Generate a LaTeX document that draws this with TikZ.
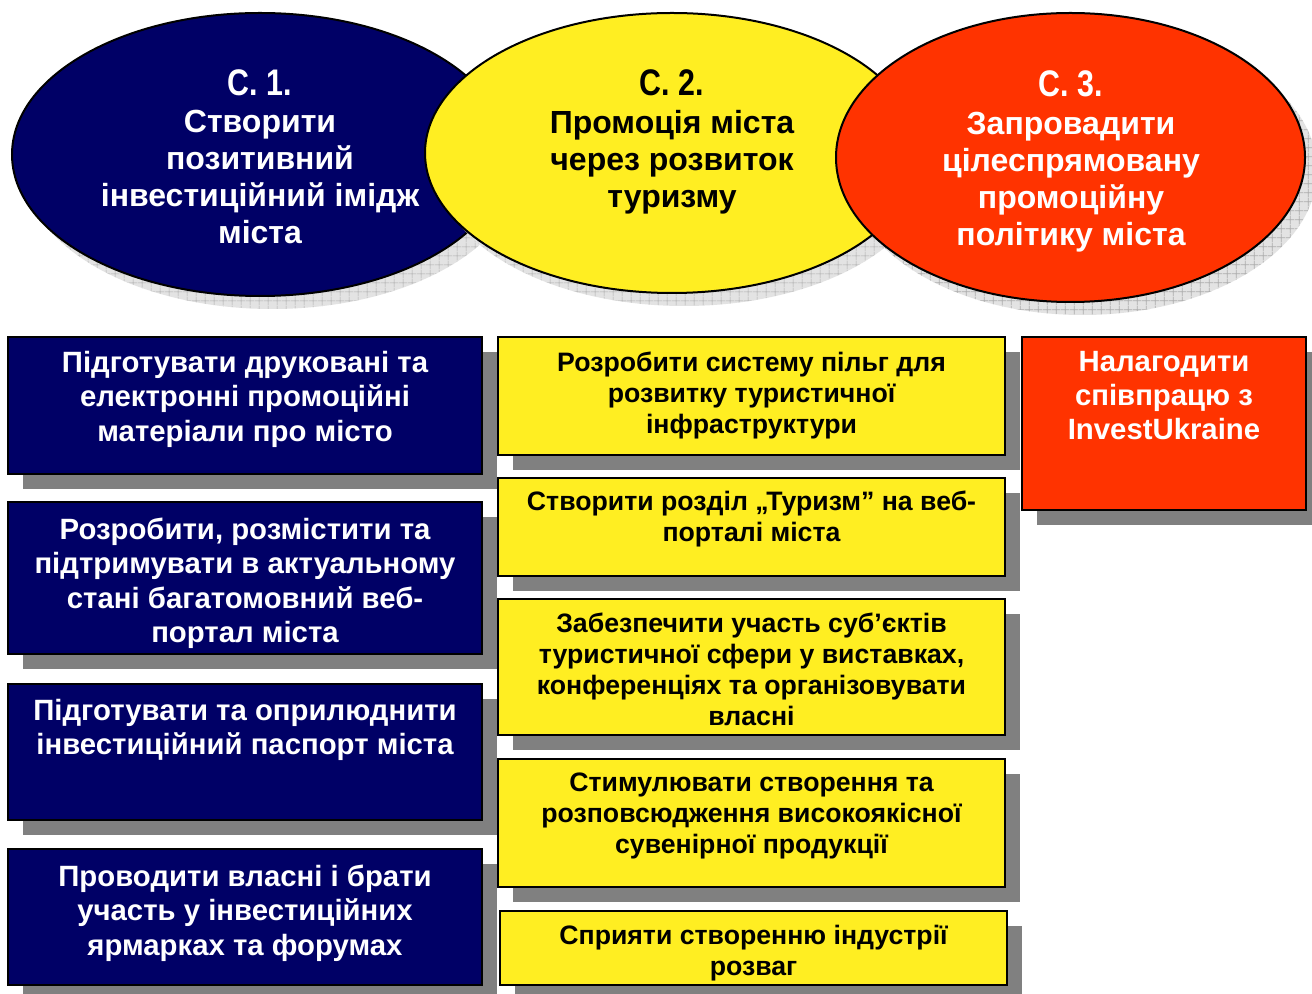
\documentclass[tikz,border=0pt]{standalone}
\usepackage{fontspec}
\setmainfont{Liberation Sans}
\newfontfamily\narrowfont[FakeStretch=0.82]{Liberation Sans}
\usetikzlibrary{shapes.geometric,patterns.meta}
\definecolor{navyc}{RGB}{0,0,102}
\definecolor{yell}{RGB}{255,238,34}
\definecolor{redc}{RGB}{255,51,0}
\definecolor{shad}{RGB}{128,128,128}
\begin{document}
\begin{tikzpicture}[x=0.75pt,y=-0.75pt,
  oval/.style={ellipse, draw=black, line width=1.5pt, inner sep=0pt},
  ovalshadow/.style={ellipse, draw=none, inner sep=0pt, preaction={fill=gray!22},
     pattern={Hatch[angle=0,distance=6.5pt,line width=0.5pt]}, pattern color=gray!65},
  box/.style={rectangle, draw=black, line width=1.5pt, inner sep=0pt},
  boxshadow/.style={rectangle, fill=shad, draw=none, inner sep=0pt},
  titletext/.style={font=\narrowfont\bfseries\fontsize{27.75pt}{30pt}\selectfont, align=center, inner sep=0pt, anchor=north},
  ovaltext/.style={font=\bfseries\fontsize{24pt}{27.75pt}\selectfont, align=center, inner sep=0pt, anchor=north},
  navytext/.style={font=\bfseries\fontsize{22pt}{25.85pt}\selectfont, text=white, align=center, inner sep=0pt, anchor=north},
  yelltext/.style={font=\bfseries\fontsize{20pt}{23.25pt}\selectfont, text=black, align=center, inner sep=0pt, anchor=north}
]
\useasboundingbox (0,0) rectangle (1312,994);
\fill[white] (0,0) rectangle (1312,994);

% ---- ellipses ----
\node[ovalshadow, minimum width=496*0.75pt, minimum height=283*0.75pt] (s1) at (272,167.5) {};
\node[oval, fill=navyc, minimum width=496*0.75pt, minimum height=283*0.75pt] (e1) at (260,154.5) {};
\node[ovalshadow, minimum width=494*0.75pt, minimum height=280*0.75pt] (s2) at (684,166) {};
\node[oval, fill=yell, minimum width=494*0.75pt, minimum height=280*0.75pt] (e2) at (672,153) {};
\node[ovalshadow, minimum width=469*0.75pt, minimum height=289*0.75pt] (s3) at (1082.5,170.5) {};
\node[oval, fill=redc, minimum width=469*0.75pt, minimum height=289*0.75pt] (e3) at (1070.5,157.5) {};

\node[titletext, text=white] (e1t) at (260,69.8) {С. 1.};
\node[ovaltext, text=white] (e1b) at (260,110.3) {Створити\\позитивний\\інвестиційний імідж\\міста};
\node[titletext, text=black] (e2t) at (672,69.8) {С. 2.};
\node[ovaltext, text=black] (e2b) at (672,110.3) {Промоція міста\\через розвиток\\туризму};
\node[titletext, text=white] (e3t) at (1071,70.3) {С. 3.};
\node[ovaltext, text=white] (e3b) at (1071,112.3) {Запровадити\\цілеспрямовану\\промоційну\\політику міста};

% ---- navy boxes ----
\node[boxshadow, minimum width=474*0.75pt, minimum height=137*0.75pt] (b1s) at (260,420.5) {};
\node[box, fill=navyc, minimum width=474*0.75pt, minimum height=137*0.75pt] (b1) at (245,405.5) {};
\node[boxshadow, minimum width=474*0.75pt, minimum height=152*0.75pt] (b2s) at (260,593) {};
\node[box, fill=navyc, minimum width=474*0.75pt, minimum height=152*0.75pt] (b2) at (245,578) {};
\node[boxshadow, minimum width=474*0.75pt, minimum height=136*0.75pt] (b3s) at (260,767) {};
\node[box, fill=navyc, minimum width=474*0.75pt, minimum height=136*0.75pt] (b3) at (245,752) {};
\node[boxshadow, minimum width=474*0.75pt, minimum height=136*0.75pt] (b4s) at (260,932) {};
\node[box, fill=navyc, minimum width=474*0.75pt, minimum height=136*0.75pt] (b4) at (245,917) {};

\node[navytext] (b1t) at (245,350.6) {Підготувати друковані та\\електронні промоційні\\матеріали про місто};
\node[navytext] (b2t) at (245,517.6) {Розробити, розмістити та\\підтримувати в актуальному\\стані багатомовний веб-\\портал міста};
\node[navytext] (b3t) at (245,698.6) {Підготувати та оприлюднити\\інвестиційний паспорт міста};
\node[navytext] (b4t) at (245,864.6) {Проводити власні і брати\\участь у інвестиційних\\ярмарках та форумах};

% ---- yellow boxes ----
\node[boxshadow, minimum width=507*0.75pt, minimum height=118*0.75pt] (y1s) at (766.5,411) {};
\node[box, fill=yell, minimum width=507*0.75pt, minimum height=118*0.75pt] (y1) at (751.5,396) {};
\node[boxshadow, minimum width=507*0.75pt, minimum height=98*0.75pt] (y2s) at (766.5,542) {};
\node[box, fill=yell, minimum width=507*0.75pt, minimum height=98*0.75pt] (y2) at (751.5,527) {};
\node[boxshadow, minimum width=507*0.75pt, minimum height=136*0.75pt] (y3s) at (766.5,682) {};
\node[box, fill=yell, minimum width=507*0.75pt, minimum height=136*0.75pt] (y3) at (751.5,667) {};
\node[boxshadow, minimum width=507*0.75pt, minimum height=128*0.75pt] (y4s) at (766.5,838) {};
\node[box, fill=yell, minimum width=507*0.75pt, minimum height=128*0.75pt] (y4) at (751.5,823) {};
\node[boxshadow, minimum width=507*0.75pt, minimum height=74*0.75pt] (y5s) at (768.5,963) {};
\node[box, fill=yell, minimum width=507*0.75pt, minimum height=74*0.75pt] (y5) at (753.5,948) {};

\node[yelltext] (y1t) at (751.5,351.8) {Розробити систему пільг для\\розвитку туристичної\\інфраструктури};
\node[yelltext] (y2t) at (751.5,490.8) {Створити розділ „Туризм” на веб-\\порталі міста};
\node[yelltext] (y3t) at (751.5,612.8) {Забезпечити участь суб’єктів\\туристичної сфери у виставках,\\конференціях та організовувати\\власні};
\node[yelltext] (y4t) at (751.5,772.8) {Стимулювати створення та\\розповсюдження високоякісної\\сувенірної продукції};
\node[yelltext] (y5t) at (753.5,924.8) {Сприяти створенню індустрії\\розваг};

% ---- red box ----
\node[boxshadow, minimum width=284*0.75pt, minimum height=173*0.75pt] (r1s) at (1179,438.5) {};
\node[box, fill=redc, minimum width=284*0.75pt, minimum height=173*0.75pt] (r1) at (1164,423.5) {};
\node[navytext] (r1t) at (1164,350.6) {Налагодити\\співпрацю з\\InvestUkraine};
\end{tikzpicture}
\end{document}
